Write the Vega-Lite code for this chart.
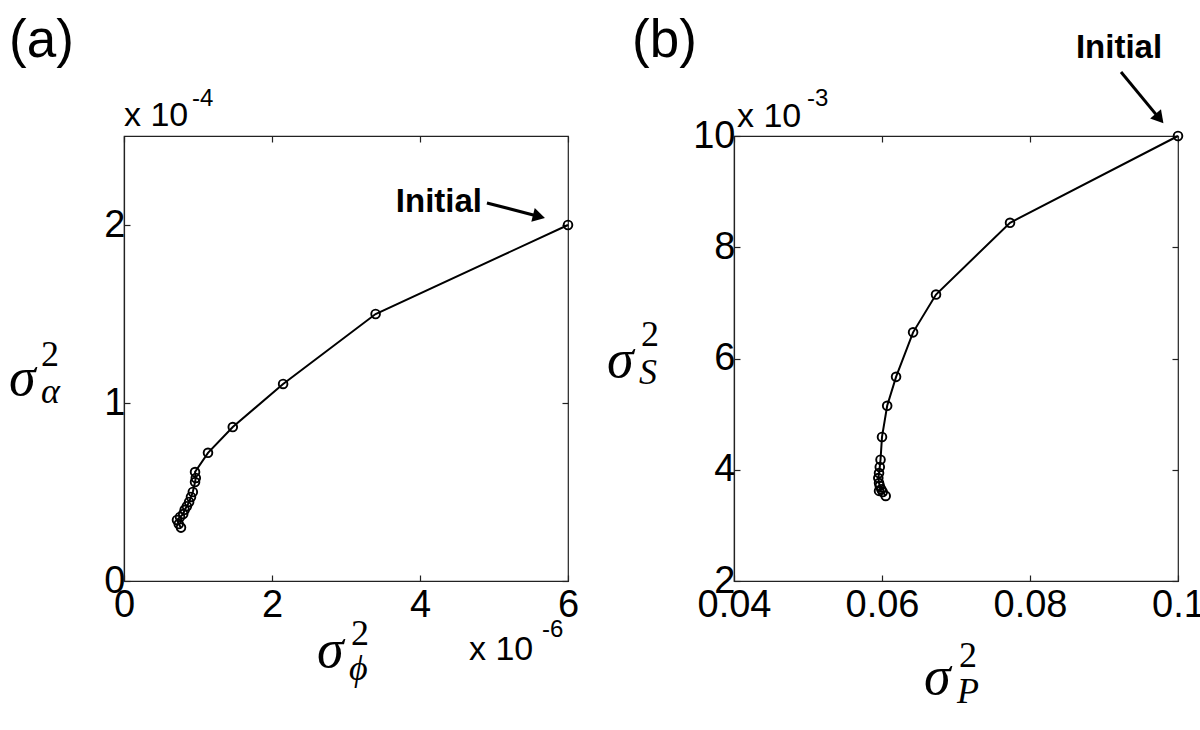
{
  "$schema": "https://vega.github.io/schema/vega-lite/v6.json",
  "background": "white",
  "padding": {"left": 8, "top": 14, "right": 0, "bottom": 0},
  "spacing": 166,
  "bounds": "flush",
  "datasets": {
    "a": [
      {"i": 0, "x": 6.0, "y": 2.0},
      {"i": 1, "x": 3.40, "y": 1.50},
      {"i": 2, "x": 2.15, "y": 1.107},
      {"i": 3, "x": 1.47, "y": 0.865},
      {"i": 4, "x": 1.135, "y": 0.72},
      {"i": 5, "x": 0.96, "y": 0.612},
      {"i": 6, "x": 0.97, "y": 0.579},
      {"i": 7, "x": 0.96, "y": 0.556},
      {"i": 8, "x": 0.93, "y": 0.50},
      {"i": 9, "x": 0.905, "y": 0.472},
      {"i": 10, "x": 0.88, "y": 0.444},
      {"i": 11, "x": 0.85, "y": 0.42},
      {"i": 12, "x": 0.82, "y": 0.40},
      {"i": 13, "x": 0.80, "y": 0.376},
      {"i": 14, "x": 0.757, "y": 0.36},
      {"i": 15, "x": 0.716, "y": 0.343},
      {"i": 16, "x": 0.74, "y": 0.32},
      {"i": 17, "x": 0.77, "y": 0.30}
    ],
    "b": [
      {"i": 0, "x": 0.1, "y": 10},
      {"i": 1, "x": 0.0773, "y": 8.44},
      {"i": 2, "x": 0.0673, "y": 7.15},
      {"i": 3, "x": 0.0642, "y": 6.47},
      {"i": 4, "x": 0.0619, "y": 5.67},
      {"i": 5, "x": 0.0607, "y": 5.15},
      {"i": 6, "x": 0.0600, "y": 4.59},
      {"i": 7, "x": 0.0598, "y": 4.18},
      {"i": 8, "x": 0.0597, "y": 4.05},
      {"i": 9, "x": 0.0596, "y": 3.94},
      {"i": 10, "x": 0.0595, "y": 3.85},
      {"i": 11, "x": 0.0596, "y": 3.76},
      {"i": 12, "x": 0.0597, "y": 3.71},
      {"i": 13, "x": 0.0599, "y": 3.65},
      {"i": 14, "x": 0.0596, "y": 3.62},
      {"i": 15, "x": 0.0601, "y": 3.60},
      {"i": 16, "x": 0.0605, "y": 3.53}
    ],
    "one": [{}]
  },
  "config": {
    "view": {"stroke": "#222", "strokeWidth": 1.2},
    "axis": {
      "grid": false,
      "title": null,
      "labelFont": "Liberation Sans",
      "labelFontSize": 38,
      "labelColor": "black",
      "labelFlush": false,
      "labelBound": false,
      "labelOverlap": false,
      "tickColor": "#222",
      "tickSize": -6,
      "tickWidth": 1.2,
      "domainColor": "#222",
      "domainWidth": 1.2
    },
    "axisX": {"labelPadding": 11},
    "axisY": {"labelPadding": 5},
    "text": {"font": "Liberation Sans", "color": "black"}
  },
  "hconcat": [
    {
      "width": 444,
      "height": 445,
      "resolve": {"axis": {"x": "independent", "y": "independent"}},
      "layer": [
        {
          "data": {"name": "a"},
          "mark": {"type": "line", "color": "black", "strokeWidth": 2},
          "encoding": {
            "x": {"field": "x", "type": "quantitative", "scale": {"domain": [0, 6], "nice": false, "zero": false},
                  "axis": {"orient": "bottom", "values": [0, 2, 4, 6], "format": "d"}},
            "y": {"field": "y", "type": "quantitative", "scale": {"domain": [0, 2.5], "nice": false, "zero": false},
                  "axis": {"orient": "left", "values": [0, 1, 2], "format": "d"}},
            "order": {"field": "i", "type": "quantitative"}
          }
        },
        {
          "data": {"name": "a"},
          "mark": {"type": "point", "shape": "circle", "filled": false, "color": "black", "opacity": 1, "size": 75, "strokeWidth": 1.9},
          "encoding": {
            "x": {"field": "x", "type": "quantitative", "scale": {"domain": [0, 6], "nice": false, "zero": false},
                  "axis": {"orient": "top", "values": [0, 2, 4, 6], "labels": false, "domain": false}},
            "y": {"field": "y", "type": "quantitative", "scale": {"domain": [0, 2.5], "nice": false, "zero": false},
                  "axis": {"orient": "right", "values": [0, 1, 2], "labels": false, "domain": false}}
          }
        },
        {
          "data": {"name": "one"},
          "mark": {"type": "text", "text": "(a)", "fontSize": 53, "align": "left", "baseline": "alphabetic"},
          "encoding": {"x": {"datum": -1.554, "type": "quantitative", "axis": null}, "y": {"datum": 2.944, "type": "quantitative", "axis": null}}
        },
        {
          "data": {"name": "one"},
          "mark": {"type": "text", "text": "x 10", "fontSize": 34, "align": "left", "baseline": "alphabetic"},
          "encoding": {"x": {"datum": 0, "type": "quantitative", "axis": null}, "y": {"datum": 2.556, "type": "quantitative", "axis": null}}
        },
        {
          "data": {"name": "one"},
          "mark": {"type": "text", "text": "-4", "fontSize": 24, "align": "left", "baseline": "alphabetic"},
          "encoding": {"x": {"datum": 0.919, "type": "quantitative", "axis": null}, "y": {"datum": 2.669, "type": "quantitative", "axis": null}}
        },
        {
          "data": {"name": "one"},
          "mark": {"type": "text", "text": "x 10", "fontSize": 34, "align": "left", "baseline": "alphabetic"},
          "encoding": {"x": {"datum": 4.662, "type": "quantitative", "axis": null}, "y": {"datum": -0.444, "type": "quantitative", "axis": null}}
        },
        {
          "data": {"name": "one"},
          "mark": {"type": "text", "text": "-6", "fontSize": 24, "align": "left", "baseline": "alphabetic"},
          "encoding": {"x": {"datum": 5.649, "type": "quantitative", "axis": null}, "y": {"datum": -0.315, "type": "quantitative", "axis": null}}
        },
        {
          "data": {"name": "one"},
          "mark": {"type": "text", "text": "Initial", "fontSize": 33, "fontWeight": "bold", "align": "right", "baseline": "alphabetic"},
          "encoding": {"x": {"datum": 4.838, "type": "quantitative", "axis": null}, "y": {"datum": 2.073, "type": "quantitative", "axis": null}}
        },
        {
          "data": {"name": "one"},
          "mark": {"type": "rule", "color": "black", "strokeWidth": 3},
          "encoding": {
            "x": {"datum": 4.905, "type": "quantitative", "axis": null}, "y": {"datum": 2.124, "type": "quantitative", "axis": null},
            "x2": {"datum": 5.608}, "y2": {"datum": 2.048}
          }
        },
        {
          "data": {"name": "one"},
          "mark": {"type": "point", "shape": "triangle-right", "filled": true, "color": "black", "opacity": 1, "size": 200, "angle": 14},
          "encoding": {"x": {"datum": 5.608, "type": "quantitative", "axis": null}, "y": {"datum": 2.048, "type": "quantitative", "axis": null}}
        },
        {
          "data": {"name": "one"},
          "mark": {"type": "text", "text": "σ", "font": "Liberation Serif", "fontStyle": "italic", "fontSize": 54, "align": "left", "baseline": "alphabetic"},
          "encoding": {"x": {"datum": -1.554, "type": "quantitative", "axis": null}, "y": {"datum": 1.045, "type": "quantitative", "axis": null}}
        },
        {
          "data": {"name": "one"},
          "mark": {"type": "text", "text": "2", "font": "Liberation Serif", "fontSize": 36, "align": "left", "baseline": "alphabetic"},
          "encoding": {"x": {"datum": -1.122, "type": "quantitative", "axis": null}, "y": {"datum": 1.21, "type": "quantitative", "axis": null}}
        },
        {
          "data": {"name": "one"},
          "mark": {"type": "text", "text": "α", "font": "Liberation Serif", "fontStyle": "italic", "fontSize": 36, "align": "left", "baseline": "alphabetic"},
          "encoding": {"x": {"datum": -1.122, "type": "quantitative", "axis": null}, "y": {"datum": 1.0, "type": "quantitative", "axis": null}}
        },
        {
          "data": {"name": "one"},
          "mark": {"type": "text", "text": "σ", "font": "Liberation Serif", "fontStyle": "italic", "fontSize": 54, "align": "left", "baseline": "alphabetic"},
          "encoding": {"x": {"datum": 2.608, "type": "quantitative", "axis": null}, "y": {"datum": -0.483, "type": "quantitative", "axis": null}}
        },
        {
          "data": {"name": "one"},
          "mark": {"type": "text", "text": "2", "font": "Liberation Serif", "fontSize": 36, "align": "left", "baseline": "alphabetic"},
          "encoding": {"x": {"datum": 3.068, "type": "quantitative", "axis": null}, "y": {"datum": -0.36, "type": "quantitative", "axis": null}}
        },
        {
          "data": {"name": "one"},
          "mark": {"type": "text", "text": "ϕ", "font": "Liberation Serif", "fontStyle": "italic", "fontSize": 36, "align": "left", "baseline": "alphabetic"},
          "encoding": {"x": {"datum": 3.04, "type": "quantitative", "axis": null}, "y": {"datum": -0.556, "type": "quantitative", "axis": null}}
        }
      ]
    },
    {
      "width": 444,
      "height": 445,
      "resolve": {"axis": {"x": "independent", "y": "independent"}},
      "layer": [
        {
          "data": {"name": "b"},
          "mark": {"type": "line", "color": "black", "strokeWidth": 2},
          "encoding": {
            "x": {"field": "x", "type": "quantitative", "scale": {"domain": [0.04, 0.1], "nice": false, "zero": false},
                  "axis": {"orient": "bottom", "values": [0.04, 0.06, 0.08, 0.1], "format": "~g"}},
            "y": {"field": "y", "type": "quantitative", "scale": {"domain": [2, 10], "nice": false, "zero": false},
                  "axis": {"orient": "left", "values": [2, 4, 6, 8, 10], "format": "d"}},
            "order": {"field": "i", "type": "quantitative"}
          }
        },
        {
          "data": {"name": "b"},
          "mark": {"type": "point", "shape": "circle", "filled": false, "color": "black", "opacity": 1, "size": 75, "strokeWidth": 1.9},
          "encoding": {
            "x": {"field": "x", "type": "quantitative", "scale": {"domain": [0.04, 0.1], "nice": false, "zero": false},
                  "axis": {"orient": "top", "values": [0.04, 0.06, 0.08, 0.1], "labels": false, "domain": false}},
            "y": {"field": "y", "type": "quantitative", "scale": {"domain": [2, 10], "nice": false, "zero": false},
                  "axis": {"orient": "right", "values": [2, 4, 6, 8, 10], "labels": false, "domain": false}}
          }
        },
        {
          "data": {"name": "one"},
          "mark": {"type": "text", "text": "(b)", "fontSize": 53, "align": "left", "baseline": "alphabetic"},
          "encoding": {"x": {"datum": 0.02622, "type": "quantitative", "axis": null}, "y": {"datum": 11.42, "type": "quantitative", "axis": null}}
        },
        {
          "data": {"name": "one"},
          "mark": {"type": "text", "text": "x 10", "fontSize": 34, "align": "left", "baseline": "alphabetic"},
          "encoding": {"x": {"datum": 0.0404, "type": "quantitative", "axis": null}, "y": {"datum": 10.162, "type": "quantitative", "axis": null}}
        },
        {
          "data": {"name": "one"},
          "mark": {"type": "text", "text": "-3", "fontSize": 24, "align": "left", "baseline": "alphabetic"},
          "encoding": {"x": {"datum": 0.04987, "type": "quantitative", "axis": null}, "y": {"datum": 10.54, "type": "quantitative", "axis": null}}
        },
        {
          "data": {"name": "one"},
          "mark": {"type": "text", "text": "Initial", "fontSize": 33, "fontWeight": "bold", "align": "center", "baseline": "alphabetic"},
          "encoding": {"x": {"datum": 0.09203, "type": "quantitative", "axis": null}, "y": {"datum": 11.402, "type": "quantitative", "axis": null}}
        },
        {
          "data": {"name": "one"},
          "mark": {"type": "rule", "color": "black", "strokeWidth": 3},
          "encoding": {
            "x": {"datum": 0.0923, "type": "quantitative", "axis": null}, "y": {"datum": 11.151, "type": "quantitative", "axis": null},
            "x2": {"datum": 0.0975}, "y2": {"datum": 10.313}
          }
        },
        {
          "data": {"name": "one"},
          "mark": {"type": "point", "shape": "triangle-right", "filled": true, "color": "black", "opacity": 1, "size": 200, "angle": 50},
          "encoding": {"x": {"datum": 0.0975, "type": "quantitative", "axis": null}, "y": {"datum": 10.313, "type": "quantitative", "axis": null}}
        },
        {
          "data": {"name": "one"},
          "mark": {"type": "text", "text": "σ", "font": "Liberation Serif", "fontStyle": "italic", "fontSize": 54, "align": "left", "baseline": "alphabetic"},
          "encoding": {"x": {"datum": 0.02284, "type": "quantitative", "axis": null}, "y": {"datum": 5.667, "type": "quantitative", "axis": null}}
        },
        {
          "data": {"name": "one"},
          "mark": {"type": "text", "text": "2", "font": "Liberation Serif", "fontSize": 36, "align": "left", "baseline": "alphabetic"},
          "encoding": {"x": {"datum": 0.02743, "type": "quantitative", "axis": null}, "y": {"datum": 6.22, "type": "quantitative", "axis": null}}
        },
        {
          "data": {"name": "one"},
          "mark": {"type": "text", "text": "S", "font": "Liberation Serif", "fontStyle": "italic", "fontSize": 36, "align": "left", "baseline": "alphabetic"},
          "encoding": {"x": {"datum": 0.02716, "type": "quantitative", "axis": null}, "y": {"datum": 5.542, "type": "quantitative", "axis": null}}
        },
        {
          "data": {"name": "one"},
          "mark": {"type": "text", "text": "σ", "font": "Liberation Serif", "fontStyle": "italic", "fontSize": 54, "align": "left", "baseline": "alphabetic"},
          "encoding": {"x": {"datum": 0.06568, "type": "quantitative", "axis": null}, "y": {"datum": -0.031, "type": "quantitative", "axis": null}}
        },
        {
          "data": {"name": "one"},
          "mark": {"type": "text", "text": "2", "font": "Liberation Serif", "fontSize": 36, "align": "left", "baseline": "alphabetic"},
          "encoding": {"x": {"datum": 0.07041, "type": "quantitative", "axis": null}, "y": {"datum": 0.45, "type": "quantitative", "axis": null}}
        },
        {
          "data": {"name": "one"},
          "mark": {"type": "text", "text": "P", "font": "Liberation Serif", "fontStyle": "italic", "fontSize": 36, "align": "left", "baseline": "alphabetic"},
          "encoding": {"x": {"datum": 0.07014, "type": "quantitative", "axis": null}, "y": {"datum": -0.193, "type": "quantitative", "axis": null}}
        }
      ]
    }
  ]
}
